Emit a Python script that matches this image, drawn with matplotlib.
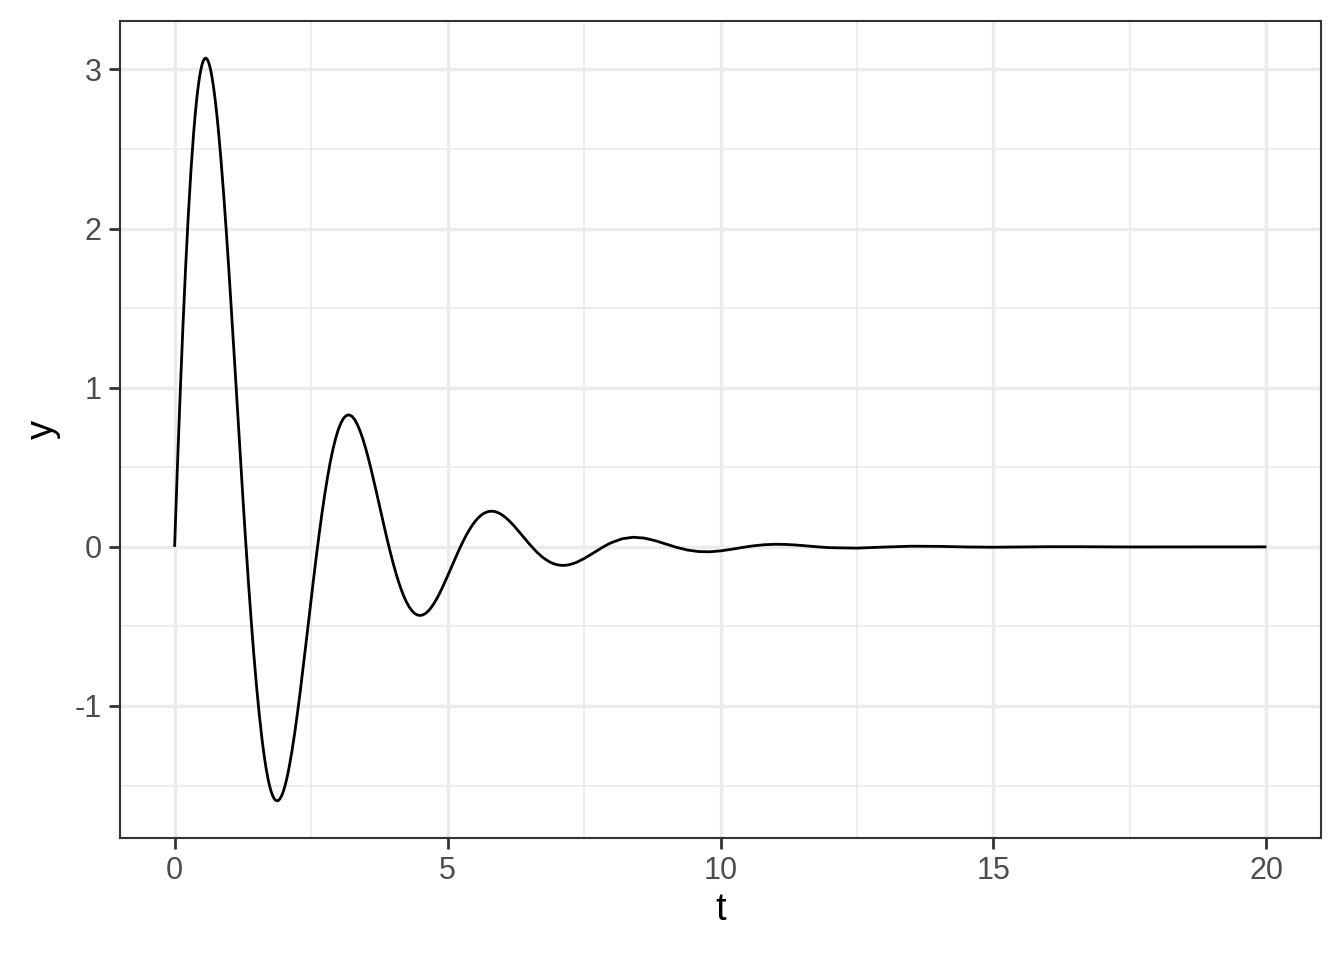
import matplotlib
matplotlib.use('Agg')
import matplotlib.pyplot as plt
from matplotlib.ticker import FixedLocator

# damped oscillation (denser where it bends hard)
t_vals = [
    0.000, 0.050, 0.100, 0.150, 0.200, 0.250, 0.300, 0.350, 0.375, 0.400,
    0.425, 0.450, 0.475, 0.500, 0.525, 0.550, 0.575, 0.600, 0.625, 0.650,
    0.675, 0.700, 0.725, 0.750, 0.775, 0.800, 0.850, 0.900, 0.950, 1.000,
    1.050, 1.100, 1.150, 1.200, 1.250, 1.300, 1.350, 1.400, 1.450, 1.500,
    1.550, 1.600, 1.625, 1.650, 1.675, 1.700, 1.725, 1.750, 1.775, 1.800,
    1.825, 1.850, 1.875, 1.900, 1.925, 1.950, 1.975, 2.000, 2.025, 2.050,
    2.075, 2.100, 2.125, 2.150, 2.200, 2.250, 2.300, 2.350, 2.400, 2.450,
    2.50, 2.55, 2.60, 2.65, 2.70, 2.75, 2.80, 2.85, 2.90, 2.95,
    3.00, 3.05, 3.10, 3.15, 3.20, 3.25, 3.30, 3.35, 3.40, 3.45,
    3.50, 3.55, 3.60, 3.65, 3.70, 3.75, 3.80, 3.85, 3.90, 3.95,
    4.00, 4.05, 4.10, 4.15, 4.20, 4.25, 4.30, 4.35, 4.40, 4.45,
    4.50, 4.55, 4.60, 4.65, 4.70, 4.75, 4.80, 4.85, 4.90, 4.95,
    5.00, 5.05, 5.10, 5.15, 5.20, 5.25, 5.30, 5.35, 5.40, 5.45,
    5.50, 5.55, 5.60, 5.65, 5.70, 5.75, 5.80, 5.85, 5.90, 5.95,
    6.00, 6.05, 6.10, 6.15, 6.20, 6.25, 6.30, 6.35, 6.40, 6.45,
    6.50, 6.55, 6.60, 6.65, 6.70, 6.75, 6.80, 6.85, 6.90, 6.95,
    7.00, 7.05, 7.10, 7.15, 7.20, 7.25, 7.30, 7.35, 7.40, 7.45,
    7.50, 7.55, 7.60, 7.65, 7.70, 7.75, 7.80, 7.85, 7.90, 7.95,
    8.0, 8.2, 8.4, 8.6, 8.8, 9.0, 9.2, 9.4, 9.6, 9.8,
    10.0, 10.2, 10.4, 10.6, 10.8, 11.0, 11.2, 11.4, 11.6, 11.8,
    12.0, 12.5, 13.0, 13.5, 14.0, 14.5, 15.0, 15.5, 16.0, 16.5,
    17.0, 17.5, 18.0, 18.5, 19.0, 19.5, 20.0,
]
y_vals = [
    0.0000, 0.4869, 0.9429, 1.3628, 1.7424, 2.0779, 2.3666, 2.6067, 2.7080, 2.7968,
    2.8730, 2.9368, 2.9880, 3.0269, 3.0536, 3.0683, 3.0713, 3.0628, 3.0432, 3.0128,
    2.9719, 2.9210, 2.8606, 2.7911, 2.7129, 2.6266, 2.4316, 2.2106, 1.9680, 1.7084,
    1.4365, 1.1568, 0.8738, 0.5919, 0.3150, 0.0470, -0.2086, -0.4487, -0.6705, -0.8717,
    -1.0501, -1.2048, -1.2727, -1.3341, -1.3891, -1.4377, -1.4796, -1.5151, -1.5440, -1.5665,
    -1.5827, -1.5926, -1.5963, -1.5940, -1.5859, -1.5720, -1.5528, -1.5282, -1.4985, -1.4641,
    -1.4250, -1.3816, -1.3342, -1.2830, -1.1704, -1.0462, -0.9127, -0.7723, -0.6275, -0.4806,
    -0.3338, -0.1893, -0.0491, 0.0851, 0.2114, 0.3285, 0.4350, 0.5300, 0.6126, 0.6822,
    0.7385, 0.7812, 0.8103, 0.8262, 0.8292, 0.8199, 0.7991, 0.7676, 0.7264, 0.6766,
    0.6193, 0.5557, 0.4871, 0.4147, 0.3398, 0.2635, 0.1872, 0.1118, 0.0384, -0.0319,
    -0.0984, -0.1601, -0.2166, -0.2670, -0.3112, -0.3486, -0.3790, -0.4025, -0.4189, -0.4284,
    -0.4311, -0.4274, -0.4177, -0.4023, -0.3817, -0.3566, -0.3275, -0.2950, -0.2597, -0.2224,
    -0.1837, -0.1441, -0.1044, -0.0651, -0.0267, 0.0102, 0.0451, 0.0776, 0.1075, 0.1343,
    0.1578, 0.1779, 0.1944, 0.2073, 0.2164, 0.2220, 0.2241, 0.2227, 0.2182, 0.2107,
    0.2005, 0.1878, 0.1730, 0.1564, 0.1384, 0.1191, 0.0991, 0.0786, 0.0580, 0.0375,
    0.0174, -0.0019, -0.0202, -0.0374, -0.0532, -0.0674, -0.0800, -0.0907, -0.0996, -0.1067,
    -0.1118, -0.1150, -0.1164, -0.1160, -0.1139, -0.1103, -0.1052, -0.0989, -0.0914, -0.0829,
    -0.0737, -0.0638, -0.0534, -0.0428, -0.0321, -0.0214, -0.0109, -0.0008, 0.0089, 0.0179,
    0.0262, 0.0510, 0.0604, 0.0552, 0.0392, 0.0177, -0.0037, -0.0204, -0.0297, -0.0310,
    -0.0254, -0.0154, -0.0040, 0.0063, 0.0133, 0.0163, 0.0152, 0.0111, 0.0053, -0.0005,
    -0.0052, -0.0080, -0.0013, 0.0041, 0.0031, -0.0007, -0.0023, -0.0009, 0.0009, 0.0010,
    0.0000, -0.0006, -0.0004, 0.0002, 0.0003, 0.0001, -0.0001,
]
assert len(t_vals) == len(y_vals)

x_major = [0, 5, 10, 15, 20]
x_minor = [2.5, 7.5, 12.5, 17.5]
y_major = [-1, 0, 1, 2, 3]
y_minor = [-1.5, -0.5, 0.5, 1.5, 2.5]
x_labels = ['0', '5', '10', '15', '20']
y_labels = ['-1', '0', '1', '2', '3']

plt.rcParams['font.family'] = ['Liberation Sans', 'DejaVu Sans']

fig = plt.figure(figsize=(13.44, 9.6), dpi=100)
ax = fig.add_axes([120 / 1344, 1 - 838 / 960, 1201 / 1344, 817 / 960])

ax.plot(t_vals, y_vals, color='black', linewidth=2.0, solid_capstyle='butt', zorder=3)

# ggplot-like expansion of 5% on each side
x_span = max(t_vals) - min(t_vals)
y_span = max(y_vals) - min(y_vals)
ax.set_xlim(min(t_vals) - 0.05 * x_span, max(t_vals) + 0.05 * x_span)
ax.set_ylim(min(y_vals) - 0.05 * y_span, max(y_vals) + 0.05 * y_span)

ax.xaxis.set_major_locator(FixedLocator(x_major))
ax.yaxis.set_major_locator(FixedLocator(y_major))
ax.xaxis.set_minor_locator(FixedLocator(x_minor))
ax.yaxis.set_minor_locator(FixedLocator(y_minor))
ax.set_xticklabels(x_labels)
ax.set_yticklabels(y_labels)

ax.grid(which='major', color='#EBEBEB', linewidth=2.4)
ax.grid(which='minor', color='#EBEBEB', linewidth=1.2)
ax.set_axisbelow(True)

ax.tick_params(which='major', length=7.7, width=2.0, color='#333333',
               labelsize=22, labelcolor='#4D4D4D', pad=5.5)
ax.tick_params(which='minor', length=0)

for spine in ax.spines.values():
    spine.set_color('#333333')
    spine.set_linewidth(1.5)

ax.set_xlabel('t', fontsize=27.5, color='black', labelpad=4)
ax.set_ylabel('y', fontsize=27.5, color='black', labelpad=10)

fig.savefig('out.png', dpi=100, facecolor='white')
